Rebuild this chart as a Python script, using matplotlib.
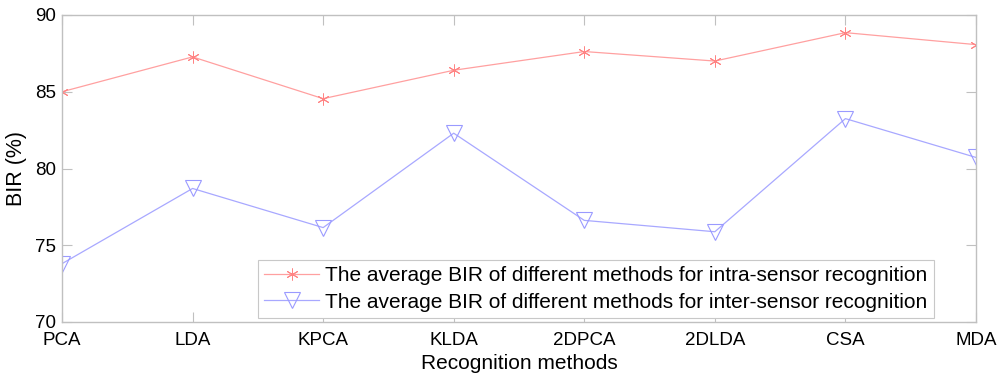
import numpy as np
import matplotlib.pyplot as plt

plt.rcParams['font.family'] = ['Liberation Sans', 'DejaVu Sans']

methods = ['PCA', 'LDA', 'KPCA', 'KLDA', '2DPCA', '2DLDA', 'CSA', 'MDA']
intra = [85.0, 87.27, 84.55, 86.4, 87.62, 87.0, 88.85, 88.07]
inter = [73.8, 78.7, 76.15, 82.3, 76.62, 75.88, 83.25, 80.72]

x = np.arange(len(methods))

fig = plt.figure(figsize=(10, 3.8), dpi=100)
ax = fig.add_axes([0.062, 1 - 322/380, 0.914, (322 - 15)/380])

ax.plot(x, intra, color='#ffa0a0', lw=0.9, marker=(6, 2, 0), ms=8.5, mec='#ff8484',
        mew=0.7, label='The average BIR of different methods for intra-sensor recognition')
ax.plot(x, inter, color='#a8a8ff', lw=0.9, marker='v', ms=11, mec='#9a9aff', mfc='none',
        mew=0.8, label='The average BIR of different methods for inter-sensor recognition')

ax.set_xlim(0, len(methods) - 1)
ax.set_ylim(70, 90)
ax.set_xticks(x)
ax.set_xticklabels(methods)
ax.set_yticks([70, 75, 80, 85, 90])
ax.tick_params(direction='in', length=7, color='#c0c0c0', labelsize=13.5,
               top=True, right=True)
ax.tick_params(axis='x', pad=7)
ax.tick_params(axis='y', pad=4)
for s in ax.spines.values():
    s.set_color('#c0c0c0')
    s.set_linewidth(1.0)

ax.set_xlabel('Recognition methods', fontsize=15, labelpad=4)
ax.set_ylabel('BIR (%)', fontsize=15.5, labelpad=6)

leg = ax.legend(loc='lower right', bbox_to_anchor=(0.954, 0.013), borderaxespad=0,
                fontsize=15, fancybox=False, framealpha=1, edgecolor='#c8c8c8',
                handlelength=2.65, handletextpad=0.3, labelspacing=0.38,
                borderpad=0.3)
leg.get_frame().set_linewidth(0.8)

fig.savefig('out.png', dpi=100)
